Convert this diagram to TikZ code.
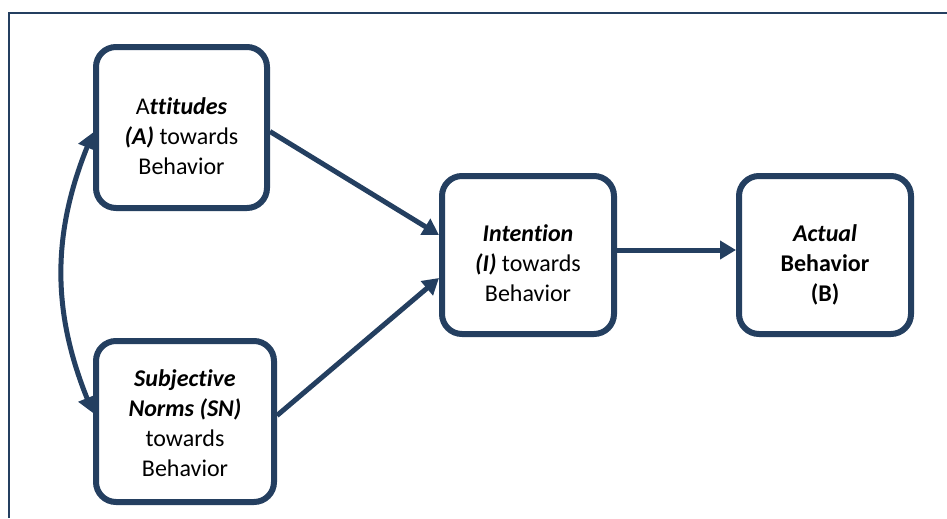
\documentclass[tikz,border=0pt]{standalone}
\usepackage{fontspec}
\setmainfont{Carlito}[Ligatures={NoCommon,TeX}]
\usetikzlibrary{arrows.meta}
\definecolor{navy}{HTML}{243F60}

\begin{document}
\begin{tikzpicture}[
	box/.style={draw=navy, line width=0.12cm, rounded corners=0.4cm, fill=white},
	txt/.style={align=center, font=\fontsize{13.66}{17.07}\selectfont},
	arr/.style={navy, line width=0.1cm, -{Triangle[length=0.32cm,width=0.36cm]}},
	dblarr/.style={navy, line width=0.1cm, {Triangle[length=0.32cm,width=0.36cm]}-{Triangle[length=0.32cm,width=0.36cm]}}
	]
	\useasboundingbox (0,0) rectangle (18.94,-10.36);
	\draw[navy, line width=0.04cm] (0.18,-10.36) -- (0.18,-0.26) -- (18.94,-0.26);
	\node[box, minimum width=3.42cm, minimum height=3.22cm, label={[txt, yshift=-0.17cm]center:{A\textbf{\textit{ttitudes}}\\ \textbf{\textit{(A)}} towards\\ Behavior}}] (att) at (3.63,-2.55) {};
	\node[box, minimum width=3.56cm, minimum height=3.22cm, label={[txt, yshift=-0.03cm]center:{\textbf{\textit{Subjective}}\\ \textbf{\textit{Norms (SN)}}\\ towards\\ Behavior}}] (sn) at (3.7,-8.43) {};
	\node[box, minimum width=3.44cm, minimum height=3.16cm, label={[txt, yshift=-0.16cm]center:{\textbf{\textit{Intention}}\\ \textbf{\textit{(I)}} towards\\ Behavior}}] (int) at (10.56,-5.1) {};
	\node[box, minimum width=3.44cm, minimum height=3.16cm, label={[txt, yshift=-0.2cm]center:{\textbf{\textit{Actual}}\\ \textbf{Behavior}\\ \textbf{(B)}}}] (beh) at (16.5,-5.1) {};
	\draw[arr] ([yshift=-0.08cm]att.east) -- ([yshift=0.4cm]int.west);
	\draw[arr] ([yshift=0.12cm]sn.east) -- ([yshift=-0.46cm]int.west);
	\draw[arr] ([yshift=0.1cm]int.east) -- ([yshift=0.1cm]beh.west);
	\draw[dblarr] ([yshift=-0.1cm]att.west) to[bend right=22] ([yshift=0.17cm]sn.west);
\end{tikzpicture}
\end{document}
